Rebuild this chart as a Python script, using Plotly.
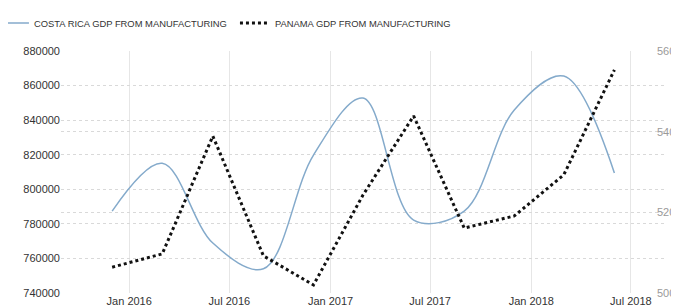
import plotly.graph_objects as go

dates = ["2015-12-01", "2016-03-01", "2016-06-01", "2016-09-01", "2016-12-01",
         "2017-03-01", "2017-06-01", "2017-09-01", "2017-12-01", "2018-03-01", "2018-06-01"]
costa_rica = [787400, 815000, 768900, 754000, 819800, 852800, 782200, 787400, 845900, 865500, 809400]
panama = [506.4, 509.7, 538.9, 509.2, 502.0, 524.3, 543.9, 516.1, 519.1, 529.3, 555.3]

left_ticks = [740000, 760000, 780000, 800000, 820000, 840000, 860000, 880000]
right_ticks = [500, 520, 540, 560]

fig = go.Figure()
fig.add_trace(go.Scatter(
    x=dates, y=costa_rica, name="COSTA RICA GDP FROM MANUFACTURING",
    mode="lines", line=dict(color="#84AACB", width=1.5, shape="spline", smoothing=1),
    yaxis="y"))
fig.add_trace(go.Scatter(
    x=dates, y=panama, name="PANAMA GDP FROM MANUFACTURING",
    mode="lines", line=dict(color="#111111", width=3, dash="dot"),
    yaxis="y2"))

font = "Liberation Sans, Arial, sans-serif"
fig.update_layout(
    width=679, height=307,
    margin=dict(l=53, r=22, t=43, b=22, autoexpand=False),
    paper_bgcolor="white", plot_bgcolor="white",
    showlegend=True,
    legend=dict(orientation="h",
                x=-0.111, y=1.1157, xanchor="left", yanchor="middle",
                font=dict(family=font, size=9.4, color="#333333"),
                entrywidth=196, entrywidthmode="pixels",
                itemwidth=30, bgcolor="rgba(0,0,0,0)"),
    xaxis=dict(type="date", range=["2015-08-30", "2018-09-01"],
               tick0="2016-01-01", dtick="M6", tickformat="%b %Y",
               showgrid=True, gridcolor="#e6e6e6", gridwidth=1,
               showline=False, zeroline=False, ticks="",
               tickfont=dict(family=font, size=11, color="#333333")),
    yaxis=dict(range=[740000, 880000], tickvals=left_ticks,
               ticktext=[str(v) for v in left_ticks],
               showgrid=True, gridcolor="#d9d9d9", griddash="dot", gridwidth=1,
               zeroline=False, showline=False, ticks="",
               tickfont=dict(family=font, size=11, color="#333333")),
    yaxis2=dict(range=[500, 560], tickvals=right_ticks, overlaying="y", side="right",
                showgrid=True, gridcolor="#d9d9d9", griddash="dot", gridwidth=1,
                zeroline=False, showline=False, ticks="", ticklabelstandoff=-9,
                tickfont=dict(family=font, size=11, color="#9a9a9a")),
)

fig.write_html("out.html")
